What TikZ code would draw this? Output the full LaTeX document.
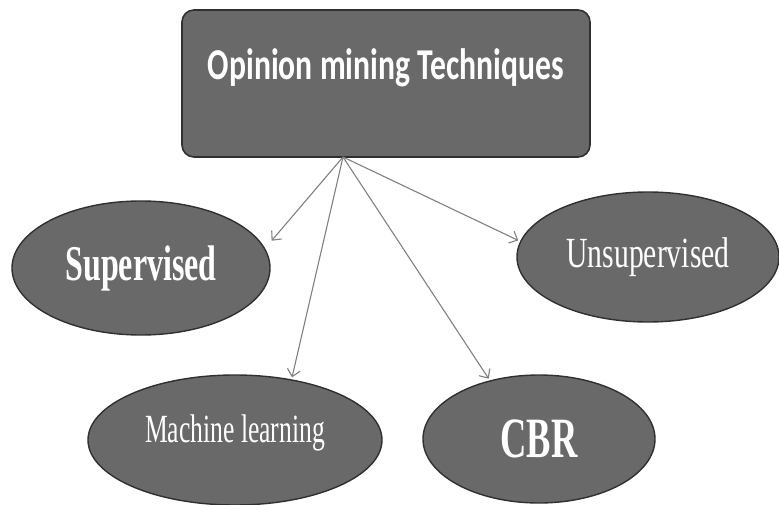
\documentclass[tikz,border=0pt]{standalone}
\usepackage{xcolor}
\usepackage{fontspec}
\newfontfamily\boxfont[FakeStretch=0.72]{Carlito}
\newfontfamily\ovalfont[FakeStretch=0.64]{Liberation Serif}
\newfontfamily\ovalwidefont[FakeStretch=0.69]{Liberation Serif}
\usepackage{tikz}
\usetikzlibrary{arrows.meta,shapes.geometric}
\definecolor{fillgray}{RGB}{105,105,105}
\definecolor{edgegray}{RGB}{48,48,48}
\definecolor{arrowgray}{RGB}{128,128,128}
\tikzset{
	topbox/.style={
			draw=edgegray, line width=1.6pt, fill=fillgray, rounded corners=12pt,
			text=white, inner sep=0pt, font=\boxfont\bfseries\fontsize{44}{44}\selectfont
		},
	oval/.style={
			ellipse, draw=edgegray, line width=1.4pt, fill=fillgray,
			text=white, inner sep=0pt
		},
	link/.style={
			draw=arrowgray, line width=1.1pt, shorten >=2pt,
			-{Straight Barb[length=7pt,width=13pt]}
		}
}

\begin{document}
\begin{tikzpicture}[x=1pt,y=-1pt]
	\useasboundingbox (0,0) rectangle (779,505);

	\node[topbox, minimum width=408pt, minimum height=147pt, text height=28pt, text depth=35pt] (omt) at (386,83.5) {Opinion mining Techniques};
	\coordinate (hub) at (343,157);

	\node[oval, minimum width=258pt, minimum height=134pt, font=\ovalfont\bfseries\fontsize{50}{50}\selectfont] (sup) at (141,268) {Supervised};
	\node[oval, minimum width=262pt, minimum height=130pt, font=\ovalwidefont\fontsize{43}{43}\selectfont] (unsup) at (648,257) {Unsupervised};
	\node[oval, minimum width=294pt, minimum height=130pt, text height=28pt, text depth=24pt, font=\ovalfont\fontsize{40}{40}\selectfont] (ml) at (235,440) {Machine learning};
	\node[oval, minimum width=232pt, minimum height=128pt, font=\ovalfont\bfseries\fontsize{57}{57}\selectfont] (cbr) at (539,439) {CBR};

	\draw[link, shorten >=10pt] (hub) -- (sup.9);
	\draw[link] (hub) -- (ml.47);
	\draw[link] (hub) -- (cbr.130);
	\draw[link] (hub) -- (unsup.173);
\end{tikzpicture}
\end{document}
